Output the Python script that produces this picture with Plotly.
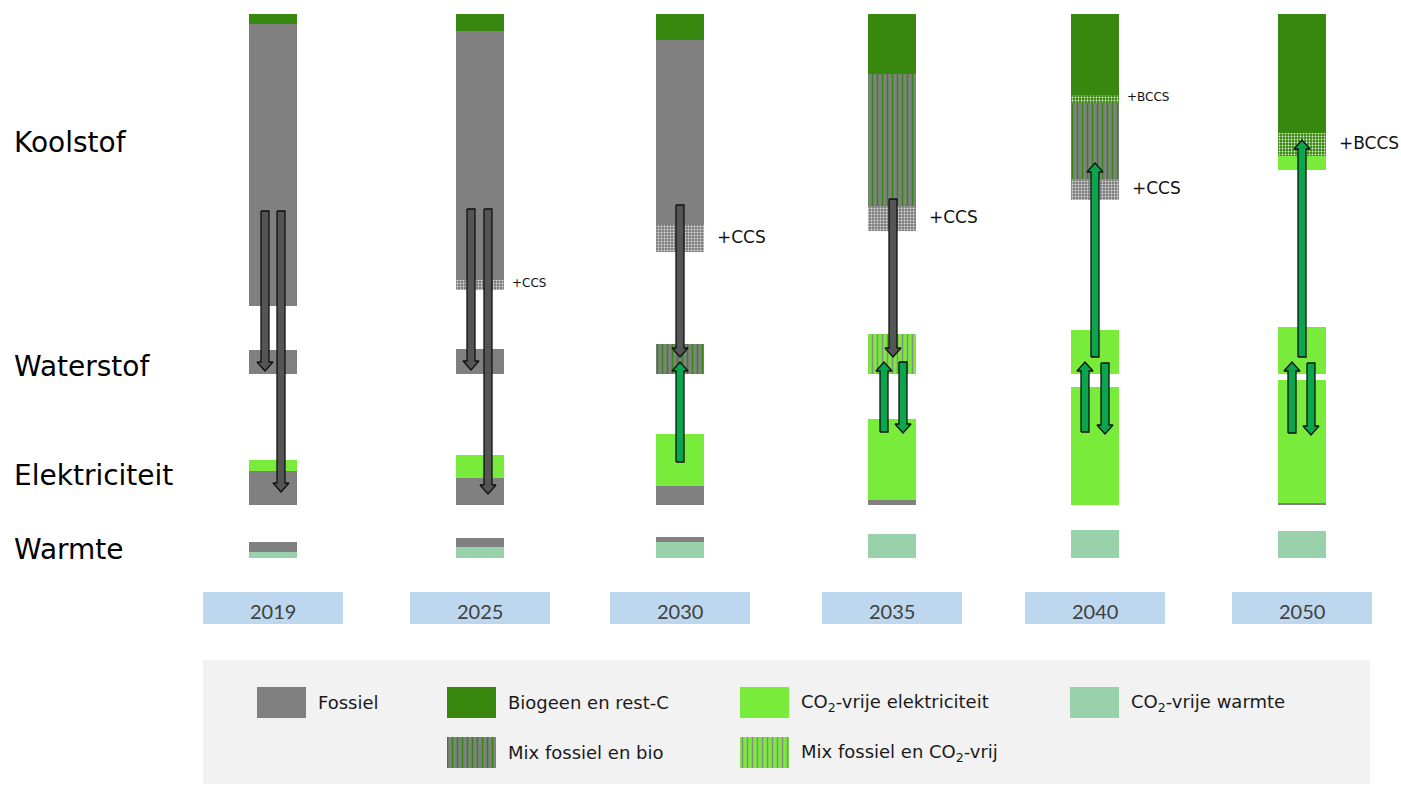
import plotly.graph_objects as go

# ---------------- data ----------------
years = ["2019", "2025", "2030", "2035", "2040", "2050"]
row_labels = ["Koolstof", "Waterstof", "Elektriciteit", "Warmte"]

# Koolstof block, stacked downward from the top (heights)
kool_bio = [10, 17, 26, 60, 81, 119]
kool_bccs = [0, 0, 0, 0, 8, 23]
kool_mix_bio = [0, 0, 0, 132, 76, 0]
kool_fossiel = [282, 249, 185, 0, 0, 0]
kool_ccs = [0, 10, 27, 25, 21, 0]
kool_co2vrij = [0, 0, 0, 0, 0, 14]

# Waterstof block, stacked upward from its base
h2_fossiel = [24, 25, 0, 0, 0, 0]
h2_mix_bio = [0, 0, 30, 0, 0, 0]
h2_mix_co2 = [0, 0, 0, 40, 0, 0]
h2_co2vrij = [0, 0, 0, 0, 44, 47]

# Elektriciteit block, stacked upward
elek_fossiel = [34, 27, 19, 5, 0, 2]
elek_co2vrij = [11, 23, 52, 81, 118, 123]

# Warmte block, stacked upward
warm_co2vrij = [6, 11, 16, 24, 28, 27]
warm_fossiel = [10, 9, 5, 0, 0, 0]

# Flows (arrows): year, offset, start level, end level (tip), kind
arrow_year = ["2019", "2019", "2025", "2025", "2030", "2030", "2035", "2035", "2035",
              "2040", "2040", "2040", "2050", "2050", "2050"]
arrow_dx = [-8, 8, -9, 8, 0, 0, 1, -8, 11, 0, -10, 10, 0, -10, 9]
arrow_from = [211, 211, 209, 209, 205, 462, 199, 432, 362, 357, 432, 363, 357, 433, 363]
arrow_to = [371, 492, 370, 494, 357, 362, 357, 362, 433, 163, 362, 434, 140, 362, 435]
arrow_kind = ["fossiel", "fossiel", "fossiel", "fossiel", "fossiel", "groen", "fossiel",
              "groen", "groen", "groen", "groen", "groen", "groen", "groen", "groen"]

# CCS labels: year, text, segment it refers to
ccs_label_year = ["2025", "2030", "2035", "2040", "2040", "2050"]
ccs_label_text = ["+CCS", "+CCS", "+CCS", "+CCS", "+BCCS", "+BCCS"]
ccs_label_seg = ["ccs", "ccs", "ccs", "ccs", "bccs", "bccs"]
ccs_label_big = [False, True, True, True, False, True]

legend_labels = ["Fossiel", "Biogeen en rest-C", "CO<sub>2</sub>-vrije elektriciteit",
                 "CO<sub>2</sub>-vrije warmte", "Mix fossiel en bio",
                 "Mix fossiel en CO<sub>2</sub>-vrij"]
legend_keys = ["fossiel", "bio", "co2", "warm", "mix_bio", "mix_co2"]

# ---------------- layout constants ----------------
W, H = 1401, 785
col_x = dict(zip(years, [273, 480, 680, 892, 1095, 1302]))
bar_w = 48
kool_top = 14
h2_base = 374
elek_base = 505
warm_base = 558
label_y = [142, 366, 475, 549]

FOSSIEL = "#808080"
BIO = "#38870e"
CO2 = "#79eb3a"
WARM = "#99d1aa"

styles = {
    "fossiel": dict(color=FOSSIEL),
    "bio": dict(color=BIO),
    "co2": dict(color=CO2),
    "warm": dict(color=WARM),
    "mix_bio": dict(color=FOSSIEL, pattern=dict(shape="|", fgcolor="#2f8a0e", bgcolor=FOSSIEL,
                                                size=5, solidity=0.3)),
    "mix_co2": dict(color=CO2, pattern=dict(shape="|", fgcolor="#8a8a8a", bgcolor=CO2,
                                            size=5, solidity=0.3)),
    "ccs": dict(color="#7d7d7d", pattern=dict(shape=".", fgcolor="#e0e0e0", bgcolor="#7d7d7d",
                                              size=3, solidity=0.3)),
    "bccs": dict(color=BIO, pattern=dict(shape=".", fgcolor="#e6f3dc", bgcolor=BIO,
                                         size=3, solidity=0.3)),
}

fig = go.Figure()
seg_pos = {}  # (year, key) -> (top, bottom) for koolstof segments


def add_bars(xs, bases, hs, key, width=bar_w):
    if not xs:
        return
    st = styles[key]
    marker = dict(color=st["color"], line=dict(width=0))
    if "pattern" in st:
        marker["pattern"] = dict(st["pattern"], fillmode="replace")
    fig.add_trace(go.Bar(x=xs, y=hs, base=bases, width=width, marker=marker,
                         hoverinfo="skip", showlegend=False))


# Koolstof: stacked downward
kool_series = [("bio", kool_bio), ("bccs", kool_bccs), ("mix_bio", kool_mix_bio),
               ("fossiel", kool_fossiel), ("ccs", kool_ccs), ("co2", kool_co2vrij)]
cum = [0] * len(years)
for key, vals in kool_series:
    xs, bs, hs = [], [], []
    for i, y in enumerate(years):
        top = kool_top + cum[i]
        seg_pos[(y, key)] = (top, top + vals[i])
        if vals[i] > 0:
            xs.append(col_x[y]); bs.append(top); hs.append(vals[i])
        cum[i] += vals[i]
    add_bars(xs, bs, hs, key)


def stack_up(series, base_level):
    cum = [0] * len(years)
    for key, vals in series:
        xs, bs, hs = [], [], []
        for i, y in enumerate(years):
            if vals[i] > 0:
                xs.append(col_x[y]); bs.append(base_level - cum[i] - vals[i]); hs.append(vals[i])
            cum[i] += vals[i]
        add_bars(xs, bs, hs, key)


stack_up([("fossiel", h2_fossiel), ("mix_bio", h2_mix_bio), ("mix_co2", h2_mix_co2),
          ("co2", h2_co2vrij)], h2_base)
stack_up([("fossiel", elek_fossiel), ("co2", elek_co2vrij)], elek_base)
stack_up([("warm", warm_co2vrij), ("fossiel", warm_fossiel)], warm_base)

# Legend swatches (bars so that patterns are available)
leg_col = [281, 471, 764, 1094, 471, 764]
leg_row = [0, 0, 0, 0, 1, 1]
leg_row_top = [687, 737]
leg_h = 31
for lab, key, cx, r in zip(legend_labels, legend_keys, leg_col, leg_row):
    add_bars([cx], [leg_row_top[r]], [leg_h], key, width=49)

# Arrows
shaft = 4
head_w = 8
head_l = 9
arrow_fill = {"fossiel": "#555555", "groen": "#0aa64e"}
for kind in ["fossiel", "groen"]:
    px, py = [], []
    for y, dx, a, b, k in zip(arrow_year, arrow_dx, arrow_from, arrow_to, arrow_kind):
        if k != kind:
            continue
        x = col_x[y] + dx
        s = 1 if b > a else -1
        hb = b - s * head_l
        px += [x - shaft, x - shaft, x - head_w, x, x + head_w, x + shaft, x + shaft, x - shaft, None]
        py += [a, hb, hb, b, hb, hb, a, a, None]
    fig.add_trace(go.Scatter(x=px, y=py, mode="lines", fill="toself",
                             fillcolor=arrow_fill[kind], line=dict(color="#111111", width=1.3),
                             hoverinfo="skip", showlegend=False))

shapes = []
annotations = []

# Row labels
for lab, yy in zip(row_labels, label_y):
    annotations.append(dict(x=12, y=yy, text=lab, xanchor="left", yanchor="middle",
                            showarrow=False, font=dict(family="DejaVu Sans", size=28, color="#000000")))

# CCS labels
for y, t, seg, big in zip(ccs_label_year, ccs_label_text, ccs_label_seg, ccs_label_big):
    top, bot = seg_pos[(y, seg)]
    annotations.append(dict(x=col_x[y] + bar_w / 2 + (11 if big else 6), y=(top + bot) / 2 - 2,
                            text=t, xanchor="left", yanchor="middle", showarrow=False,
                            font=dict(family="DejaVu Sans", size=17 if big else 12, color="#111111")))

# Year boxes
for y in years:
    cx = col_x[y]
    shapes.append(dict(type="rect", xref="x", yref="y", x0=cx - 70, x1=cx + 70, y0=592, y1=624,
                       fillcolor="#bdd7ee", line=dict(width=0), layer="below"))
    annotations.append(dict(x=cx, y=611, text=y, showarrow=False, xanchor="center", yanchor="middle",
                            font=dict(family="Lato", size=20, color="#404040")))

# Legend background
shapes.append(dict(type="rect", xref="x", yref="y", x0=203, x1=1370, y0=660, y1=784,
                   fillcolor="#f2f2f2", line=dict(width=0), layer="below"))
for lab, cx, r in zip(legend_labels, leg_col, leg_row):
    annotations.append(dict(x=cx + 24.5 + 10, y=leg_row_top[r] + leg_h / 2, text=lab,
                            xanchor="left", yanchor="middle", showarrow=False,
                            font=dict(family="DejaVu Sans", size=18, color="#1a1a1a")))

fig.update_layout(
    width=W, height=H, margin=dict(l=0, r=0, t=0, b=0),
    paper_bgcolor="white", plot_bgcolor="white",
    barmode="overlay", bargap=0,
    xaxis=dict(range=[0, W], visible=False, fixedrange=True),
    yaxis=dict(range=[H, 0], visible=False, fixedrange=True),
    shapes=shapes, annotations=annotations,
    showlegend=False,
)

fig.write_html("out.html", config={"displayModeBar": False},
               post_script="document.body.style.margin='0';document.body.style.overflow='hidden';")
